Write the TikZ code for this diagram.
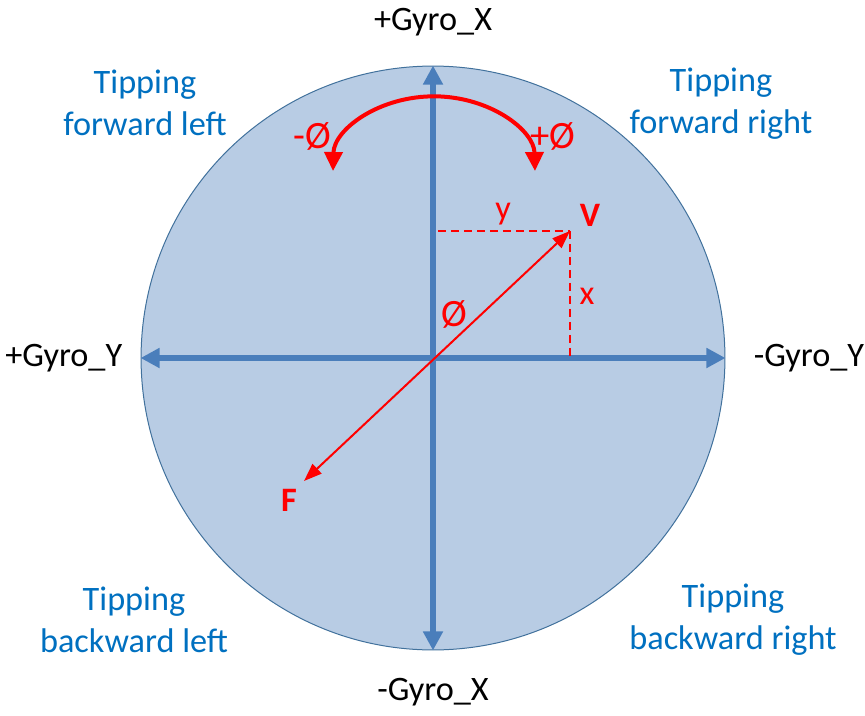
\documentclass[tikz,border=0pt]{standalone}
\usepackage{fontspec}
\setmainfont{Carlito}
\usetikzlibrary{arrows.meta, positioning}
\definecolor{diskfill}{RGB}{184,204,228}
\definecolor{diskline}{RGB}{65,113,156}
\definecolor{axisblue}{RGB}{74,126,187}
\definecolor{tipblue}{RGB}{0,112,192}

\begin{document}
\begin{tikzpicture}[x=0.02cm, y=-0.02cm]
	\tikzstyle{disk} = [circle, draw=diskline, line width=0.02cm, fill=diskfill, minimum size=11.68cm, inner sep=0pt]
	\tikzstyle{axis} = [line width=0.12cm, draw=axisblue, {Triangle[length=0.38cm, width=0.38cm]}-{Triangle[length=0.38cm, width=0.38cm]}]
	\tikzstyle{lbl} = [font=\fontsize{19.5pt}{23.8pt}\selectfont, inner sep=0pt]
	\tikzstyle{tip} = [lbl, text=tipblue, align=center]
	\tikzstyle{redlbl} = [lbl, text=red]
	\tikzstyle{philbl} = [redlbl, font=\fontsize{22pt}{26pt}\selectfont]
	\tikzstyle{rot} = [line width=0.08cm, red, {Triangle[length=0.38cm, width=0.36cm]}-{Triangle[length=0.38cm, width=0.36cm]}]
	\tikzstyle{vec} = [line width=0.04cm, red, {Triangle[length=0.36cm, width=0.26cm]}-{Triangle[length=0.36cm, width=0.26cm]}]
	\tikzstyle{proj} = [line width=0.04cm, red, dash pattern=on 0.16cm off 0.1cm]

	\useasboundingbox (0,0) rectangle (865,716);

	\node[disk] (disk) at (433,358) {};
	\draw[axis] (disk.south) -- (disk.north);
	\draw[axis] (disk.west) -- (disk.east);

	\node[lbl] (gxp) at (433,22) {+Gyro\_X};
	\node[lbl] (gxm) at (433,692) {-Gyro\_X};
	\node[lbl, left=0.36cm of disk.west] (gyp) {+Gyro\_Y};
	\node[lbl, right=0.56cm of disk.east] (gym) {-Gyro\_Y};

	\node[tip] (tfl) at (145,103) {Tipping\\forward left};
	\node[tip] (tfr) at (721,104) {Tipping\\forward right};
	\node[tip] (tbl) at (134,620) {Tipping\\backward left};
	\node[tip] (tbr) at (733,620) {Tipping\\backward right};

	% rotation
	\draw[rot] (333,171) arc[start angle=181, end angle=359, x radius=101, y radius=76];
	\node[philbl] (minphi) at (312,136) {-Ø};
	\node[philbl] (plusphi) at (553,136) {+Ø};

	% vector
	\coordinate (origin) at (433,357);
	\coordinate (vtip) at (570,231);
	\coordinate (ftip) at (304,481);
	\coordinate (yfoot) at (438,231);
	\coordinate (xfoot) at (570,357);
	\draw[vec] (ftip) -- (vtip);
	\draw[proj] (yfoot) -- (vtip);
	\draw[proj] (vtip) -- (xfoot);
	\node[redlbl, font=\fontsize{19.5pt}{23.8pt}\selectfont\bfseries] (vlbl) at (590,215) {V};
	\node[redlbl, font=\fontsize{19.5pt}{23.8pt}\selectfont\bfseries] (flbl) at (289,500) {F};
	\node[redlbl] (ylbl) at (503,214) {y};
	\node[redlbl] (xlbl) at (587,296) {x};
	\node[philbl] (phi) at (454,314) {Ø};
\end{tikzpicture}
\end{document}
